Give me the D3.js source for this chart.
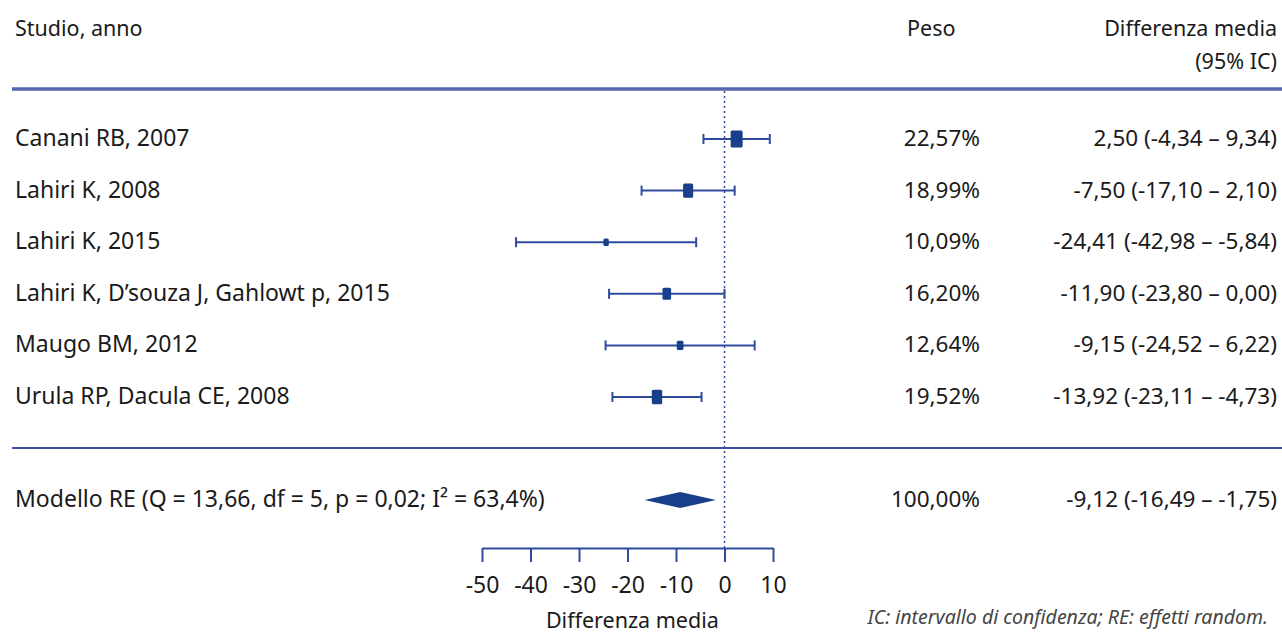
<!DOCTYPE html>
<html>
<head>
<meta charset="utf-8">
<script src="https://cdn.jsdelivr.net/npm/d3@7"></script>
<style>
  body { margin: 0; background: #fff; }
  svg text { font-family: "Noto Sans", "Open Sans", sans-serif; fill: #1a1a1a; }
</style>
</head>
<body>
<svg width="1282" height="633"></svg>
<script>
// study data
var studies = ["Canani RB, 2007", "Lahiri K, 2008", "Lahiri K, 2015",
  "Lahiri K, D\u2019souza J, Gahlowt p, 2015", "Maugo BM, 2012", "Urula RP, Dacula CE, 2008"];
var means = [2.50, -7.50, -24.41, -11.90, -9.15, -13.92];
var lowers = [-4.34, -17.10, -42.98, -23.80, -24.52, -23.11];
var uppers = [9.34, 2.10, -5.84, 0.00, 6.22, -4.73];
var weights = [22.57, 18.99, 10.09, 16.20, 12.64, 19.52];

// pooled (random effects)
var pooledLabel = "Modello RE (Q = 13,66, df = 5, p = 0,02; I\u00b2 = 63,4%)";
var pooled = { mean: -9.12, lower: -16.49, upper: -1.75, weight: 100.00 };

var tickValues = [-50, -40, -30, -20, -10, 0, 10];

var fmt = function (v) { return d3.format(".2f")(v).replace(".", ",").replace("\u2212", "-"); };

var svg = d3.select("svg");
var blue = "#2f4b9e";
var navy = "#173f8a";
var fsRow = 23, fsNum = 22.5, fsHead = 21.5;
var pesoX = 980, ciX = 1277;

var x = d3.scaleLinear().domain([-50, 10]).range([482, 773]);
var y = d3.scalePoint().domain(studies).range([139, 397]);
var poolY = 500;
var axisY = 548;

// headers
svg.append("text").attr("x", 15).attr("y", 36).attr("font-size", fsHead).text("Studio, anno");
svg.append("text").attr("x", 907).attr("y", 36).attr("font-size", fsHead).text("Peso");
svg.append("text").attr("x", ciX).attr("y", 36).attr("font-size", fsHead).attr("text-anchor", "end").text("Differenza media");
svg.append("text").attr("x", ciX).attr("y", 69).attr("font-size", fsHead).attr("text-anchor", "end").text("(95% IC)");

// rules
svg.append("line").attr("x1", 12).attr("x2", 1282).attr("y1", 89).attr("y2", 89)
  .attr("stroke", "#5566b0").attr("stroke-width", 3.5);
svg.append("line").attr("x1", 12).attr("x2", 1282).attr("y1", 448).attr("y2", 448)
  .attr("stroke", "#3d50a8").attr("stroke-width", 2);

// zero line
svg.append("line").attr("x1", x(0)).attr("x2", x(0)).attr("y1", 91).attr("y2", axisY)
  .attr("stroke", blue).attr("stroke-width", 1.5).attr("stroke-dasharray", "2,3");

// rows
var rows = svg.selectAll("g.row").data(studies).enter().append("g").attr("class", "row");

rows.append("text").attr("x", 15).attr("y", function (d) { return y(d) + 7; })
  .attr("font-size", fsRow).text(function (d) { return d; });

rows.append("text").attr("x", pesoX).attr("y", function (d) { return y(d) + 7; })
  .attr("font-size", fsNum).attr("text-anchor", "end")
  .text(function (d, i) { return fmt(weights[i]) + "%"; });

rows.append("text").attr("x", ciX).attr("y", function (d) { return y(d) + 7; })
  .attr("font-size", fsNum).attr("text-anchor", "end")
  .text(function (d, i) { return fmt(means[i]) + " (" + fmt(lowers[i]) + " \u2013 " + fmt(uppers[i]) + ")"; });

// CI lines
rows.append("line")
  .attr("x1", function (d, i) { return x(lowers[i]); })
  .attr("x2", function (d, i) { return x(uppers[i]); })
  .attr("y1", function (d) { return y(d); }).attr("y2", function (d) { return y(d); })
  .attr("stroke", blue).attr("stroke-width", 2);
rows.append("line")
  .attr("x1", function (d, i) { return x(lowers[i]); })
  .attr("x2", function (d, i) { return x(lowers[i]); })
  .attr("y1", function (d) { return y(d) - 5; }).attr("y2", function (d) { return y(d) + 5; })
  .attr("stroke", blue).attr("stroke-width", 2);
rows.append("line")
  .attr("x1", function (d, i) { return x(uppers[i]); })
  .attr("x2", function (d, i) { return x(uppers[i]); })
  .attr("y1", function (d) { return y(d) - 5; }).attr("y2", function (d) { return y(d) + 5; })
  .attr("stroke", blue).attr("stroke-width", 2);

// weight boxes
var side = d3.scaleLinear().domain([0, 22.57]).range([0, 12]);
rows.append("rect")
  .attr("x", function (d, i) { return x(means[i]) - side(weights[i]) / 2; })
  .attr("y", function (d, i) { return y(d) - side(weights[i]) * 0.7; })
  .attr("width", function (d, i) { return side(weights[i]); })
  .attr("height", function (d, i) { return side(weights[i]) * 1.4; })
  .attr("rx", 1.5)
  .attr("fill", navy);

// pooled row
svg.append("text").attr("x", 15).attr("y", poolY + 7).attr("font-size", fsRow).text(pooledLabel);
svg.append("text").attr("x", pesoX).attr("y", poolY + 7).attr("font-size", fsNum).attr("text-anchor", "end")
  .text(fmt(pooled.weight) + "%");
svg.append("text").attr("x", ciX).attr("y", poolY + 7).attr("font-size", fsNum).attr("text-anchor", "end")
  .text(fmt(pooled.mean) + " (" + fmt(pooled.lower) + " \u2013 " + fmt(pooled.upper) + ")");
svg.append("path")
  .attr("d", "M" + x(pooled.lower) + "," + poolY + "L" + x(pooled.mean) + "," + (poolY - 8) +
    "L" + x(pooled.upper) + "," + poolY + "L" + x(pooled.mean) + "," + (poolY + 8) + "Z")
  .attr("fill", navy);

// axis
var axis = svg.append("g").attr("transform", "translate(0," + axisY + ")")
  .call(d3.axisBottom(x).tickValues(tickValues).tickSize(14).tickSizeOuter(0).tickPadding(15)
    .tickFormat(function (d) { return d3.format("d")(d).replace("\u2212", "-"); }));
axis.select(".domain").attr("stroke", blue).attr("stroke-width", 2);
axis.selectAll(".tick line").attr("stroke", blue).attr("stroke-width", 2);
axis.selectAll(".tick text").attr("font-size", 23).attr("font-family", "'Noto Sans', sans-serif").attr("fill", "#1a1a1a");

svg.append("text").attr("x", x(-19)).attr("y", 628).attr("font-size", fsHead).attr("text-anchor", "middle")
  .text("Differenza media");

svg.append("text").attr("x", 1268).attr("y", 624).attr("font-size", 19.5).attr("text-anchor", "end")
  .attr("font-style", "italic").style("fill", "#444").text("IC: intervallo di confidenza; RE: effetti random.");
</script>
</body>
</html>
